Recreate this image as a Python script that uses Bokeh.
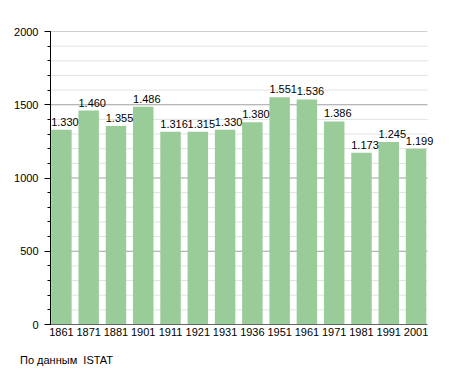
from bokeh.plotting import figure
from bokeh.models import FixedTicker, LabelSet, ColumnDataSource, Div
from bokeh.layouts import column
from bokeh.core.properties import value
from bokeh.embed import file_html
from bokeh.resources import INLINE

years = ["1861", "1871", "1881", "1901", "1911", "1921", "1931", "1936", "1951", "1961", "1971", "1981", "1991", "2001"]
population = [1330, 1460, 1355, 1486, 1316, 1315, 1330, 1380, 1551, 1536, 1386, 1173, 1245, 1199]
labels = ["1.330", "1.460", "1.355", "1.486", "1.316", "1.315", "1.330", "1.380", "1.551", "1.536", "1.386", "1.173", "1.245", "1.199"]
y_ticks = [0, 500, 1000, 1500, 2000]
minor_ticks = list(range(0, 2001, 100))
source_note = "По данным  ISTAT"

FONT = "Liberation Sans"
BAR_W = 0.75
X0, X1 = -0.4, 13.42          # drawn extent of the chart area
X_END = 13.86                 # frame extended so right-hand labels are not clipped
xs = list(range(len(years)))

src = ColumnDataSource(dict(x=xs, top=population, lab=labels,
                            lx=[x - BAR_W / 2 for x in xs]))

p = figure(width=439, height=346, output_backend="svg", toolbar_location=None,
           x_range=(X0, X_END), y_range=(0, 2000),
           min_border_left=50, min_border_right=0, min_border_top=31, min_border_bottom=22)
p.outline_line_color = None
p.background_fill_color = "white"

# grid lines limited to the chart area
minor_only = [t for t in minor_ticks if t not in y_ticks]
p.segment(x0=[X0] * len(minor_only), x1=[X1] * len(minor_only), y0=minor_only, y1=minor_only,
          line_color="#e2e2e2", line_width=1)
p.segment(x0=[X0] * len(y_ticks), x1=[X1] * len(y_ticks), y0=y_ticks, y1=y_ticks,
          line_color="#a0a0a0", line_width=1)

p.vbar(x="x", top="top", width=BAR_W, source=src, fill_color="#99CC99", line_color=None)
p.add_layout(LabelSet(x="lx", y="top", text="lab", source=src, text_font=value(FONT),
                      text_font_size="11px", text_color="#000000", text_align="left",
                      text_baseline="bottom", y_offset=4))

# x axis baseline
p.segment(x0=[X0], x1=[X1], y0=[0], y1=[0], line_color="black", line_width=1)

# x axis
p.xaxis.ticker = FixedTicker(ticks=xs)
p.xaxis.major_label_overrides = {i: y for i, y in enumerate(years)}
p.xaxis.major_tick_line_color = None
p.xaxis.minor_tick_line_color = None
p.xaxis.major_tick_out = 0
p.xaxis.major_tick_in = 0
p.xaxis.axis_line_color = None
p.xaxis.major_label_standoff = 3
p.xaxis.major_label_text_font = FONT
p.xaxis.major_label_text_font_size = "11px"
p.xaxis.major_label_text_color = "black"
p.xgrid.grid_line_color = None

# y axis
p.yaxis.ticker = FixedTicker(ticks=y_ticks, minor_ticks=minor_ticks)
p.yaxis.axis_line_color = "black"
p.yaxis.major_tick_out = 6
p.yaxis.major_tick_in = 0
p.yaxis.minor_tick_out = 3
p.yaxis.minor_tick_in = 0
p.yaxis.major_tick_line_color = "black"
p.yaxis.minor_tick_line_color = "black"
p.yaxis.major_label_standoff = 6
p.yaxis.major_label_text_font = FONT
p.yaxis.major_label_text_font_size = "11px"
p.yaxis.major_label_text_color = "black"
p.ygrid.grid_line_color = None

note = Div(text=source_note, width=200, height=14, margin=(7, 0, 0, 0),
           styles={"font-family": FONT, "font-size": "11px", "color": "black",
                   "padding-left": "20px", "line-height": "14px", "white-space": "pre"})

open("out.html", "w").write(file_html(column(p, note, spacing=0), INLINE))
